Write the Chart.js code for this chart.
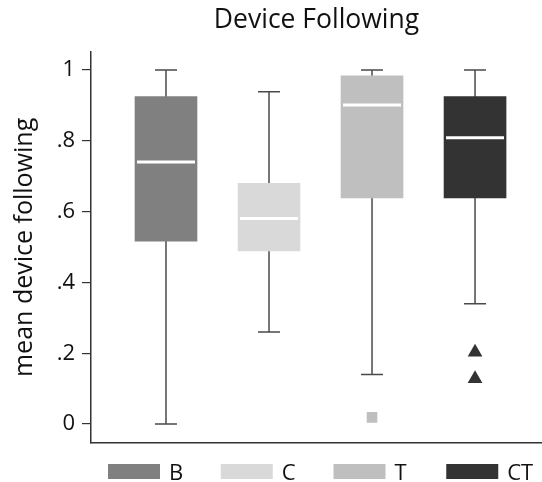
<!DOCTYPE html>
<html>
<head>
<meta charset="utf-8">
<script src="https://cdn.jsdelivr.net/npm/chart.js@4"></script>
<style>
  html, body { margin: 0; padding: 0; background: #fff; }
  #wrap { width: 542px; height: 482px; }
</style>
</head>
<body>
<div id="wrap"><canvas id="boxChart"></canvas></div>
<script>
// Dados
const groups = ['B', 'C', 'T', 'CT'];
const groupPos = [1, 2, 3, 4];
const lowerWhisker = [0, 0.26, 0.14, 0.34];
const q1 = [0.517, 0.489, 0.639, 0.639];
const median = [0.74, 0.581, 0.901, 0.809];
const q3 = [0.925, 0.68, 0.984, 0.925];
const upperWhisker = [1, 0.939, 1, 1];
const outliersT = [0.019];
const outliersCT = [0.203, 0.128];
const yTicks = [0, 0.2, 0.4, 0.6, 0.8, 1];

const colors = ['#808080', '#d9d9d9', '#bfbfbf', '#333333'];
const fontFam = '"Open Sans", "Noto Sans", sans-serif';

// Caixas como barras flutuantes (uma série por grupo)
const boxSets = groups.map((g, i) => ({
    type: 'bar',
    label: g,
    data: [{ x: groupPos[i], y: [q1[i], q3[i]] }],
    backgroundColor: colors[i],
    borderWidth: 0,
    barThickness: 62,
    grouped: false,
    order: 2
}));

// Valores atípicos
const outlierSets = [
    {
        type: 'scatter', label: 'outT',
        data: outliersT.map(v => ({ x: groupPos[2], y: v })),
        pointStyle: 'rect', pointRadius: 7.5, pointBackgroundColor: colors[2],
        pointBorderWidth: 0, order: 1
    },
    {
        type: 'scatter', label: 'outCT',
        data: outliersCT.map(v => ({ x: groupPos[3], y: v })),
        pointStyle: 'triangle', pointRadius: 8.5, pointBackgroundColor: colors[3],
        pointBorderWidth: 0, order: 1
    }
];

// Bigodes e medianas desenhados com as escalas do gráfico
const boxExtras = {
    id: 'boxExtras',
    beforeDatasetsDraw(chart) {
        const { ctx, scales: { x, y } } = chart;
        ctx.save();
        ctx.strokeStyle = '#4a4a4a';
        ctx.lineWidth = 1.5;
        groups.forEach((g, i) => {
            const cx = x.getPixelForValue(groupPos[i]);
            ctx.beginPath();
            ctx.moveTo(cx, y.getPixelForValue(lowerWhisker[i]));
            ctx.lineTo(cx, y.getPixelForValue(upperWhisker[i]));
            [lowerWhisker[i], upperWhisker[i]].forEach(v => {
                const py = y.getPixelForValue(v);
                ctx.moveTo(cx - 11, py);
                ctx.lineTo(cx + 11, py);
            });
            ctx.stroke();
        });
        ctx.restore();
    },
    afterDatasetsDraw(chart) {
        const { ctx, scales: { x, y } } = chart;
        ctx.save();
        ctx.strokeStyle = '#ffffff';
        ctx.lineWidth = 3;
        groups.forEach((g, i) => {
            const cx = x.getPixelForValue(groupPos[i]);
            const py = y.getPixelForValue(median[i]);
            ctx.beginPath();
            ctx.moveTo(cx - 29, py);
            ctx.lineTo(cx + 29, py);
            ctx.stroke();
        });
        ctx.restore();
    }
};

// Legenda em grade, uma célula por grupo abaixo da área do gráfico
const gridLegend = {
    id: 'gridLegend',
    afterDraw(chart) {
        const { ctx, chartArea } = chart;
        const cell = (chartArea.right - chartArea.left) / groups.length;
        ctx.save();
        ctx.font = '22px ' + fontFam;
        ctx.textBaseline = 'alphabetic';
        groups.forEach((g, i) => {
            const bx = chartArea.left + i * cell + 17;
            ctx.fillStyle = colors[i];
            ctx.fillRect(bx, 464, 52, 15);
            ctx.fillStyle = '#111';
            ctx.fillText(g, bx + 61, 480);
        });
        ctx.restore();
    }
};

const ctx = document.getElementById('boxChart').getContext('2d');
const boxChart = new Chart(ctx, {
    data: { datasets: [...boxSets, ...outlierSets] },
    plugins: [boxExtras, gridLegend],
    options: {
        responsive: true,
        maintainAspectRatio: false,
        animation: false,
        layout: { autoPadding: false, padding: { left: 0, right: 0, top: 0, bottom: 31 } },
        plugins: {
            title: {
                display: true,
                fullSize: false,
                text: 'Device Following',
                color: '#111',
                font: { family: fontFam, size: 26.5, weight: 'normal' },
                padding: { top: 5, bottom: 15 }
            },
            legend: { display: false },
            tooltip: { enabled: false }
        },
        scales: {
            x: {
                type: 'linear',
                min: 0.272,
                max: 4.65,
                offset: false,
                grid: { display: false },
                ticks: { display: false },
                border: { display: true, color: '#333', width: 1.5 },
                afterFit: s => { s.height = 8; }
            },
            y: {
                min: -0.0534,
                max: 1.0516,
                afterBuildTicks: s => { s.ticks = yTicks.map(v => ({ value: v })); },
                grid: { drawOnChartArea: false, tickLength: 9, color: '#333', lineWidth: 1.2 },
                border: { display: true, color: '#333', width: 1.5 },
                ticks: {
                    color: '#111',
                    padding: 7,
                    font: { family: fontFam, size: 22 },
                    callback: v => (v === 0 || v === 1) ? String(v) : v.toFixed(1).replace('0.', '.')
                },
                title: {
                    display: true,
                    text: 'mean device following',
                    color: '#111',
                    font: { family: fontFam, size: 25 },
                    padding: { top: 10, bottom: 4 }
                },
                afterFit: s => { s.width = 91; }
            }
        }
    }
});
</script>
</body>
</html>
